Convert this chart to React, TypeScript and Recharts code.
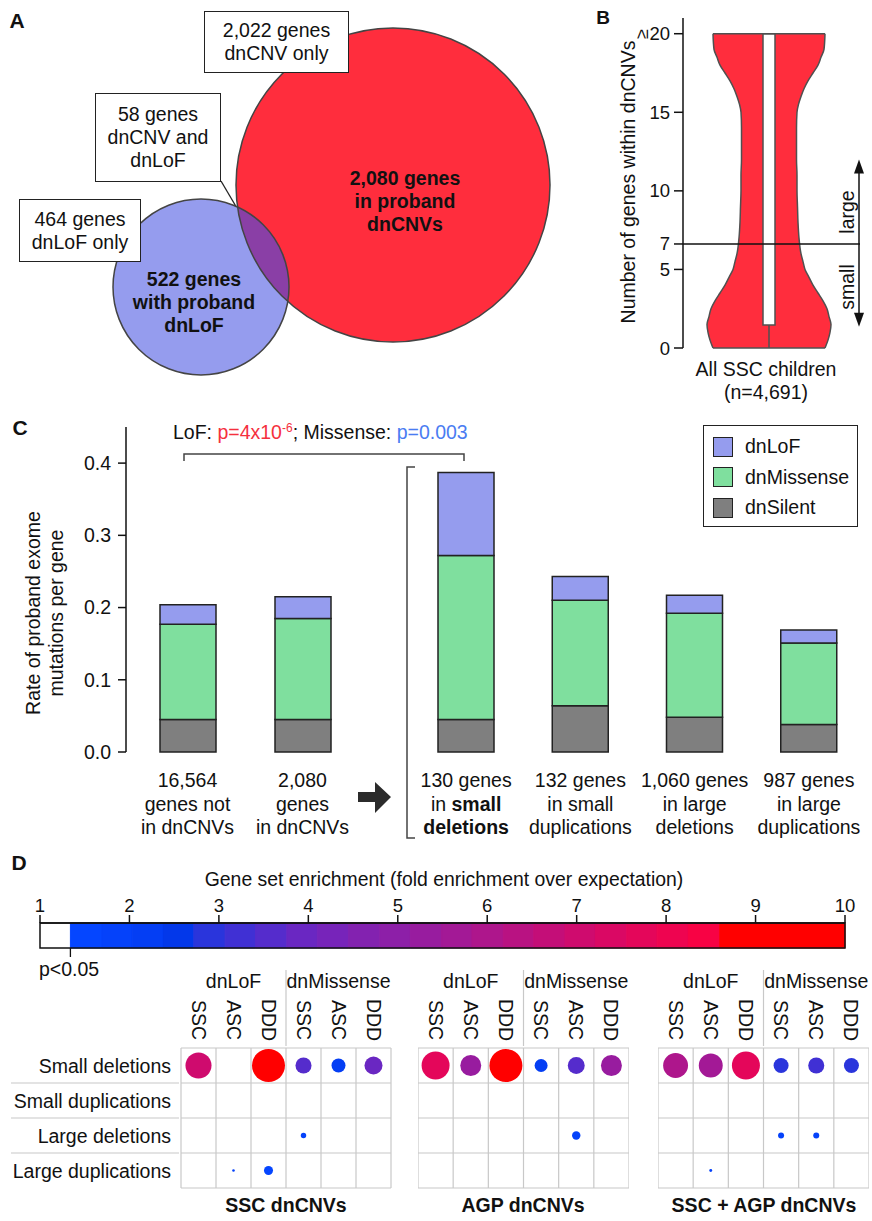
import React from "react";
import {
  ScatterChart,
  Scatter,
  ComposedChart,
  BarChart,
  Bar,
  Area,
  XAxis,
  YAxis,
  ZAxis,
  CartesianGrid,
  ReferenceLine,
  ReferenceArea,
} from "recharts";

const FONT = "'Liberation Sans', Arial, Helvetica, sans-serif";
const INK = "#111";
const FS = 19.5;

// ---------- A: overlap of gene sets (diagram units)
const vennSets = [
  { id: "cnv", genes: 2080, x: 393, y: 185, r: 157 },
  { id: "lof", genes: 522, x: 201, y: 287, r: 88 },
];
const VENN_FILL: Record<string, string> = { cnv: "#ff2d3d", lof: "#959cee" };
const VENN_OVERLAP = "#8a3fa6";

// ---------- B: genes per dnCNV, violin
const violinLevels = [0, 0.5, 1, 1.5, 2, 2.5, 3, 3.5, 4, 4.5, 5, 5.5, 6, 7, 8, 9, 10, 11, 12, 13, 14, 15, 15.5, 16, 16.5, 17, 17.5, 18, 18.5, 19, 20];
const violinHalfWidth = [56, 59, 61, 62, 60, 58, 54, 49, 44, 40, 36, 34, 32, 30, 29, 28.5, 28, 28, 27.5, 27.5, 27.5, 28, 29.5, 32, 35, 39, 44, 49, 52, 55, 56];
const boxQ1 = 1.46;
const boxQ3 = 20;
const whiskerLow = 0;
const sizeThreshold = 6.62; // drawn as "7"
const violinTicks = [0, 5, sizeThreshold, 10, 15, 20];

// ---------- C: mutation rates per gene
const rateCategories = ["notInCnv", "inCnv", "smallDel", "smallDup", "largeDel", "largeDup"];
const rateLabels = [
  ["16,564", "genes not", "in dnCNVs"],
  ["2,080", "genes", "in dnCNVs"],
  ["130 genes", "in *small*", "*deletions*"],
  ["132 genes", "in small", "duplications"],
  ["1,060 genes", "in large", "deletions"],
  ["987 genes", "in large", "duplications"],
];
const silentRate = [0.045, 0.045, 0.045, 0.064, 0.048, 0.038];
const missenseRate = [0.132, 0.14, 0.227, 0.146, 0.144, 0.113];
const lofRate = [0.027, 0.03, 0.115, 0.033, 0.025, 0.018];
const rateTicks = [0, 0.1, 0.2, 0.3, 0.4];

const LOF_COLOR = "#959cee";
const MIS_COLOR = "#7fdf9e";
const SIL_COLOR = "#7f7f7f";

const rateData = rateCategories.map((id, i) => ({
  id,
  silent: silentRate[i],
  missense: missenseRate[i],
  lof: lofRate[i],
}));

// ---------- D: enrichment colour scale and dot grids
const foldTicks = [1, 2, 3, 4, 5, 6, 7, 8, 9, 10];
const pThresholdFold = 1.34;
const colorStepStart = [1.34, 1.69, 2.03, 2.38, 2.72, 3.07, 3.41, 3.76, 4.1, 4.45, 4.8, 5.14, 5.49, 5.83, 6.18, 6.52, 6.87, 7.21, 7.56, 7.9, 8.25, 8.6];
const colorStepFill = [
  "#0546ff", "#0542fa", "#043ef4", "#0338ea", "#2a35dc", "#4030d4", "#552ccc", "#6a27c2",
  "#7724ba", "#8322b0", "#8d1fa8", "#981c9f", "#a31996", "#ae168c", "#b91282", "#c40e78",
  "#cf0b6e", "#da0864", "#e4065a", "#ee0450", "#f80244", "#ff0000",
];
const colorSteps = colorStepStart.map((from, i) => ({
  from,
  to: i < colorStepStart.length - 1 ? colorStepStart[i + 1] : 10,
}));

const gridRows = ["Small deletions", "Small duplications", "Large deletions", "Large duplications"];
const gridCols = ["SSC", "ASC", "DDD", "SSC", "ASC", "DDD"];
const gridGroups = ["dnLoF", "dnMissense"];

const sscDots = [
  { row: 0, col: 0, fold: 6.9, score: 7.1 },
  { row: 0, col: 2, fold: 9.5, score: 11.4 },
  { row: 0, col: 3, fold: 3.5, score: 2.7 },
  { row: 0, col: 4, fold: 2.3, score: 2.05 },
  { row: 0, col: 5, fold: 3.9, score: 3.4 },
  { row: 2, col: 3, fold: 1.8, score: 0.31 },
  { row: 3, col: 1, fold: 1.8, score: 0.07 },
  { row: 3, col: 2, fold: 1.6, score: 0.85 },
];
const agpDots = [
  { row: 0, col: 0, fold: 7.6, score: 8.2 },
  { row: 0, col: 1, fold: 5.3, score: 4.6 },
  { row: 0, col: 2, fold: 9.5, score: 11.4 },
  { row: 0, col: 3, fold: 2.1, score: 1.77 },
  { row: 0, col: 4, fold: 3.5, score: 3.0 },
  { row: 0, col: 5, fold: 5.2, score: 4.6 },
  { row: 2, col: 4, fold: 1.9, score: 0.74 },
];
const combinedDots = [
  { row: 0, col: 0, fold: 6.0, score: 6.5 },
  { row: 0, col: 1, fold: 5.6, score: 6.0 },
  { row: 0, col: 2, fold: 7.6, score: 8.2 },
  { row: 0, col: 3, fold: 2.9, score: 2.36 },
  { row: 0, col: 4, fold: 3.2, score: 2.7 },
  { row: 0, col: 5, fold: 2.9, score: 2.36 },
  { row: 2, col: 3, fold: 1.9, score: 0.38 },
  { row: 2, col: 4, fold: 1.9, score: 0.38 },
  { row: 3, col: 1, fold: 1.8, score: 0.09 },
];

function foldColor(f: number) {
  for (let i = colorStepStart.length - 1; i >= 0; i--) {
    if (f >= colorStepStart[i]) return colorStepFill[i];
  }
  return "#ffffff";
}

// ---------- helpers
function Txt({ x, y, children, size = FS, bold = false, rotate = 0, color = INK, lh = 23 }: any) {
  return (
    <div
      style={{
        position: "absolute",
        left: x,
        top: y,
        transform: `translate(-50%, -50%) rotate(${rotate}deg)`,
        fontSize: size,
        fontWeight: bold ? 700 : 400,
        whiteSpace: "nowrap",
        textAlign: "center",
        lineHeight: `${lh}px`,
        color,
        fontFamily: FONT,
      }}
    >
      {children}
    </div>
  );
}

function Box({ left, top, width, height, lines }: any) {
  return (
    <div
      style={{
        position: "absolute",
        left,
        top,
        width,
        height,
        boxSizing: "border-box",
        border: "1.5px solid #222",
        background: "#fff",
        display: "flex",
        flexDirection: "column",
        justifyContent: "center",
        alignItems: "center",
        fontSize: FS,
        lineHeight: "23px",
        color: INK,
        fontFamily: FONT,
      }}
    >
      {lines.map((l: string, i: number) => (
        <div key={i}>{l}</div>
      ))}
    </div>
  );
}

const vennById: Record<string, any> = Object.fromEntries(vennSets.map((s) => [s.id, s]));

function VennFill(p: any) {
  return <circle cx={p.cx} cy={p.cy} r={p.payload.r} fill={VENN_FILL[p.payload.id]} />;
}
function VennLens(p: any) {
  const a = p.payload;
  const b = vennById.cnv;
  const bx = p.cx + (b.x - a.x);
  const by = p.cy + (b.y - a.y);
  return (
    <g>
      <defs>
        <clipPath id="vennLensClip">
          <circle cx={bx} cy={by} r={b.r} />
        </clipPath>
      </defs>
      <circle cx={p.cx} cy={p.cy} r={a.r} fill={VENN_OVERLAP} clipPath="url(#vennLensClip)" />
    </g>
  );
}
function VennOutline(p: any) {
  return <circle cx={p.cx} cy={p.cy} r={p.payload.r} fill="none" stroke="#444" strokeWidth={1.5} />;
}

function DoubleArrow(p: any) {
  const { x1, y1, y2 } = p;
  const top = Math.min(y1, y2);
  const bot = Math.max(y1, y2);
  return (
    <g>
      <line x1={x1} y1={top + 8} x2={x1} y2={bot - 8} stroke={INK} strokeWidth={1.5} />
      <path d={`M${x1 - 5},${top + 14} L${x1},${top} L${x1 + 5},${top + 14} Z`} fill={INK} />
      <path d={`M${x1 - 5},${bot - 14} L${x1},${bot} L${x1 + 5},${bot - 14} Z`} fill={INK} />
    </g>
  );
}

function ViolinTick(p: any) {
  const v = p.payload.value;
  const label = v === sizeThreshold ? "7" : String(v);
  return (
    <g>
      <text x={p.x} y={p.y} textAnchor="end" dominantBaseline="central" fontSize={18.5} fill={INK} fontFamily={FONT}>
        {label}
      </text>
      {v === 20 && (
        <text
          transform={`translate(${p.x - 28},${p.y}) rotate(-90)`}
          textAnchor="middle"
          dominantBaseline="central"
          fontSize={18}
          fill={INK}
          fontFamily={FONT}
        >
          ≥
        </text>
      )}
    </g>
  );
}

function rich(line: string) {
  return line.split("*").map((seg, i) =>
    i % 2 === 1 ? (
      <tspan key={i} fontWeight={700}>
        {seg}
      </tspan>
    ) : (
      <tspan key={i}>{seg}</tspan>
    )
  );
}

function RateTick(p: any) {
  const lines = rateLabels[rateCategories.indexOf(p.payload.value)] || [];
  return (
    <text textAnchor="middle" fontSize={FS} fill={INK} fontFamily={FONT}>
      {lines.map((ln, i) => (
        <tspan key={i} x={p.x} y={p.y + 33 + i * 23.5}>
          {rich(ln)}
        </tspan>
      ))}
    </text>
  );
}

function ColTick(p: any) {
  const v = p.payload.value;
  const { x, y } = p;
  if (v === 3) {
    return <line x1={x} y1={y - 76} x2={x} y2={y} stroke="#c8c8c8" strokeWidth={1.2} />;
  }
  const col = Math.floor(v);
  return (
    <g>
      <text
        transform={`translate(${x},${y - 26}) rotate(90)`}
        textAnchor="middle"
        dominantBaseline="central"
        fontSize={FS}
        fill={INK}
        fontFamily={FONT}
      >
        {gridCols[col]}
      </text>
      {(col === 1 || col === 4) && (
        <text x={x} y={y - 58} textAnchor="middle" fontSize={FS} fill={INK} fontFamily={FONT}>
          {gridGroups[col === 1 ? 0 : 1]}
        </text>
      )}
    </g>
  );
}

function RowTick(p: any) {
  const v = p.payload.value;
  const { x, y } = p;
  if (Number.isInteger(v)) {
    return <line x1={11} y1={y} x2={x} y2={y} stroke="#c8c8c8" strokeWidth={1.2} />;
  }
  return (
    <text x={x - 8} y={y} textAnchor="end" dominantBaseline="central" fontSize={FS} fill={INK} fontFamily={FONT}>
      {gridRows[Math.floor(v)]}
    </text>
  );
}

function Dot(p: any) {
  const r = (p.width || 0) / 2;
  if (r <= 0) return null;
  return <circle cx={p.cx} cy={p.cy} r={r} fill={foldColor(p.payload.fold)} />;
}

function DotGrid({ dots, left, width, showRows }: any) {
  const data = dots.map((d: any) => ({ ...d, x: d.col + 0.5, y: d.row + 0.5 }));
  return (
    <div style={{ position: "absolute", left, top: 961 }}>
      <ScatterChart width={width} height={235} margin={{ top: 0, right: showRows ? 9 : 0, bottom: 8, left: 0 }}>
        <CartesianGrid
          verticalValues={[0, 1, 2, 3, 4, 5, 6]}
          horizontalValues={[0, 1, 2, 3, 4]}
          stroke="#c8c8c8"
          strokeWidth={1.2}
        />
        <XAxis
          type="number"
          dataKey="x"
          domain={[0, 6]}
          orientation="top"
          ticks={[0.5, 1.5, 2.5, 3, 3.5, 4.5, 5.5]}
          interval={0}
          height={87}
          axisLine={false}
          tickLine={false}
          tickSize={0}
          tick={ColTick}
        />
        <YAxis
          type="number"
          dataKey="y"
          domain={[0, 4]}
          reversed
          hide={!showRows}
          width={181}
          ticks={[0.5, 1, 1.5, 2, 2.5, 3, 3.5]}
          interval={0}
          axisLine={false}
          tickLine={false}
          tickSize={0}
          tick={RowTick}
        />
        <ZAxis type="number" dataKey="score" domain={[0, 12]} range={[0, 900]} />
        <Scatter data={data} shape={Dot} isAnimationActive={false} />
      </ScatterChart>
    </div>
  );
}

function RateChart({ data, left, width, withAxis }: any) {
  return (
    <div style={{ position: "absolute", left, top: 417 }}>
      <BarChart width={width} height={425} data={data} margin={{ top: 10, right: 0, bottom: 0, left: 0 }} barSize={56}>
        <XAxis
          dataKey="id"
          height={90}
          axisLine={false}
          tickLine={false}
          tickSize={0}
          interval={0}
          padding={withAxis ? { left: 4, right: 0 } : { left: 0, right: 0 }}
          tick={RateTick}
        />
        <YAxis
          domain={[0, 0.45]}
          ticks={rateTicks}
          hide={!withAxis}
          width={126}
          tickSize={8}
          tickMargin={7}
          tickFormatter={(v: number) => v.toFixed(1)}
          axisLine={{ stroke: INK, strokeWidth: 1.5 }}
          tickLine={{ stroke: INK, strokeWidth: 1.5 }}
          tick={{ fontSize: FS, fill: INK, fontFamily: FONT }}
        />
        <Bar dataKey="silent" stackId="r" fill={SIL_COLOR} stroke="#222" strokeWidth={1.5} isAnimationActive={false} />
        <Bar dataKey="missense" stackId="r" fill={MIS_COLOR} stroke="#222" strokeWidth={1.5} isAnimationActive={false} />
        <Bar dataKey="lof" stackId="r" fill={LOF_COLOR} stroke="#222" strokeWidth={1.5} isAnimationActive={false} />
      </BarChart>
    </div>
  );
}

const legendItems = [
  { label: "dnLoF", color: LOF_COLOR },
  { label: "dnMissense", color: MIS_COLOR },
  { label: "dnSilent", color: SIL_COLOR },
];

export default function App() {
  const violinData = violinLevels.map((v, i) => ({ v, w: violinHalfWidth[i] }));
  const wBottom = violinHalfWidth[0];
  const wTop = violinHalfWidth[violinHalfWidth.length - 1];

  return (
    <div
      style={{
        position: "absolute",
        left: 0,
        top: 0,
        width: 872,
        height: 1221,
        background: "#fff",
        fontFamily: FONT,
        color: INK,
        overflow: "hidden",
      }}
    >
      {/* A */}
      <div style={{ position: "absolute", left: 0, top: 0 }}>
        <ScatterChart width={580} height={380} margin={{ top: 0, right: 0, bottom: 0, left: 0 }}>
          <XAxis type="number" dataKey="x" domain={[0, 580]} hide />
          <YAxis type="number" dataKey="y" domain={[0, 380]} reversed hide />
          <Scatter data={vennSets} shape={VennFill} isAnimationActive={false} />
          <Scatter data={[vennById.lof]} shape={VennLens} isAnimationActive={false} />
          <Scatter data={vennSets} shape={VennOutline} isAnimationActive={false} />
          <ReferenceLine
            segment={[
              { x: 221, y: 181 },
              { x: 264, y: 254 },
            ]}
            stroke="#222"
            strokeWidth={1.3}
            ifOverflow="visible"
          />
        </ScatterChart>
      </div>
      <Txt x={17} y={20} size={21} bold>A</Txt>
      <Box left={204} top={11} width={145} height={62} lines={["2,022 genes", "dnCNV only"]} />
      <Box left={95} top={93} width={126} height={89} lines={["58 genes", "dnCNV and", "dnLoF"]} />
      <Box left={19} top={199} width={122} height={63} lines={["464 genes", "dnLoF only"]} />
      <Txt x={405} y={201} bold>
        2,080 genes<br />in proband<br />dnCNVs
      </Txt>
      <Txt x={194} y={302} bold>
        522 genes<br />with proband<br />dnLoF
      </Txt>

      {/* B */}
      <div style={{ position: "absolute", left: 590, top: 0 }}>
        <ComposedChart
          layout="vertical"
          width={282}
          height={410}
          data={violinData}
          margin={{ top: 18, right: 12, bottom: 62, left: 0 }}
        >
          <XAxis type="number" domain={[-86, 91]} hide />
          <YAxis
            type="number"
            dataKey="v"
            domain={[0, 21]}
            reversed
            ticks={violinTicks}
            interval={0}
            width={93}
            tickSize={9}
            tickMargin={4}
            axisLine={{ stroke: INK, strokeWidth: 1.5 }}
            tickLine={{ stroke: INK, strokeWidth: 1.5 }}
            tick={ViolinTick}
          />
          <Area
            type="monotone"
            dataKey="w"
            fill="#ff2d3d"
            fillOpacity={1}
            stroke="#505050"
            strokeWidth={1.5}
            isAnimationActive={false}
          />
          <Area
            type="monotone"
            dataKey={(d: any) => -d.w}
            fill="#ff2d3d"
            fillOpacity={1}
            stroke="#505050"
            strokeWidth={1.5}
            isAnimationActive={false}
          />
          <ReferenceLine
            segment={[
              { x: -wTop, y: 20 },
              { x: wTop, y: 20 },
            ]}
            stroke="#505050"
            strokeWidth={1.5}
          />
          <ReferenceLine
            segment={[
              { x: -wBottom, y: 0 },
              { x: wBottom, y: 0 },
            ]}
            stroke="#505050"
            strokeWidth={1.5}
          />
          <ReferenceLine
            segment={[
              { x: 0, y: whiskerLow },
              { x: 0, y: boxQ1 },
            ]}
            stroke="#505050"
            strokeWidth={1.5}
          />
          <ReferenceArea x1={-6} x2={6} y1={boxQ1} y2={boxQ3} fill="#fff" fillOpacity={1} stroke="#505050" strokeWidth={1.5} />
          <ReferenceLine y={sizeThreshold} stroke={INK} strokeWidth={1.5} />
          <ReferenceLine
            segment={[
              { x: 90, y: 12 },
              { x: 90, y: 1.35 },
            ]}
            ifOverflow="visible"
            shape={DoubleArrow}
          />
        </ComposedChart>
      </div>
      <Txt x={603} y={17} size={19} bold>B</Txt>
      <Txt x={628} y={182} rotate={-90}>Number of genes within dnCNVs</Txt>
      <Txt x={847} y={212} rotate={-90}>large</Txt>
      <Txt x={847} y={287} rotate={-90}>small</Txt>
      <Txt x={766} y={369}>All SSC children</Txt>
      <Txt x={766} y={392}>(n=4,691)</Txt>

      {/* C */}
      <RateChart data={rateData.slice(0, 2)} left={0} width={360} withAxis />
      <RateChart data={rateData.slice(2)} left={409} width={457} withAxis={false} />
      <Txt x={20} y={427} size={21} bold>C</Txt>
      <Txt x={33} y={613} rotate={-90}>Rate of proband exome</Txt>
      <Txt x={56} y={613} rotate={-90}>mutations per gene</Txt>
      <div style={{ position: "absolute", left: 173, top: 420, fontSize: FS, lineHeight: "24px", whiteSpace: "nowrap" }}>
        LoF: <span style={{ color: "#f5303e" }}>p=4x10<sup style={{ fontSize: 12, verticalAlign: "7px", lineHeight: 0 }}>-6</sup></span>; Missense:{" "}
        <span style={{ color: "#4a7cf2" }}>p=0.003</span>
      </div>
      <div
        style={{
          position: "absolute",
          left: 703,
          top: 425,
          width: 155,
          height: 102,
          boxSizing: "border-box",
          border: "1.5px solid #222",
          background: "#fff",
        }}
      >
        {legendItems.map((it, i) => (
          <div key={it.label} style={{ position: "absolute", left: 9, top: 9 + i * 30.5, display: "flex", alignItems: "center" }}>
            <div style={{ width: 20, height: 20, background: it.color, border: "1.5px solid #222", boxSizing: "border-box" }} />
            <div style={{ marginLeft: 12, fontSize: FS }}>{it.label}</div>
          </div>
        ))}
      </div>
      <svg style={{ position: "absolute", left: 0, top: 0 }} width={872} height={1221}>
        <path d="M184,461 V454 H464 V461" fill="none" stroke="#444" strokeWidth={1.5} />
        <path d="M415,467 H407 V838 H415" fill="none" stroke="#444" strokeWidth={1.5} />
        <polygon points="358,792 375,792 375,782 391,797 375,813 375,802 358,802" fill="#2b2b2b" />
      </svg>

      {/* D */}
      <Txt x={19} y={862} size={21} bold>D</Txt>
      <Txt x={444} y={879} size={19.4}>Gene set enrichment (fold enrichment over expectation)</Txt>
      <div style={{ position: "absolute", left: 0, top: 880 }}>
        <ComposedChart width={872} height={80} data={colorSteps} margin={{ top: 0, right: 27, bottom: 12, left: 40 }}>
          <XAxis
            type="number"
            dataKey="from"
            domain={[1, 10]}
            allowDataOverflow
            ticks={foldTicks}
            interval={0}
            orientation="top"
            height={43}
            tickSize={8}
            tickMargin={3}
            axisLine={{ stroke: INK, strokeWidth: 1.5 }}
            tickLine={{ stroke: INK, strokeWidth: 1.5 }}
            tick={{ fontSize: 18.5, fill: INK, fontFamily: FONT }}
          />
          <YAxis type="number" domain={[0, 1]} allowDataOverflow hide />
          {colorSteps.map((s, i) => (
            <ReferenceArea
              key={i}
              x1={s.from}
              x2={s.to}
              y1={0}
              y2={1}
              fill={colorStepFill[i]}
              fillOpacity={1}
              stroke={colorStepFill[i]}
              strokeWidth={1}
              ifOverflow="visible"
            />
          ))}
          <ReferenceArea x1={1} x2={10} y1={0} y2={1} fill="none" stroke={INK} strokeWidth={1.5} ifOverflow="visible" />
          <ReferenceLine
            segment={[
              { x: pThresholdFold, y: 0 },
              { x: pThresholdFold, y: -0.36 },
            ]}
            ifOverflow="visible"
            stroke={INK}
            strokeWidth={1.3}
          />
        </ComposedChart>
      </div>
      <Txt x={69} y={969}>p&lt;0.05</Txt>

      <DotGrid dots={sscDots} left={0} width={400} showRows />
      <DotGrid dots={agpDots} left={418} width={211} showRows={false} />
      <DotGrid dots={combinedDots} left={658} width={211} showRows={false} />
      <Txt x={286} y={1205} bold>SSC dnCNVs</Txt>
      <Txt x={523} y={1205} bold>AGP dnCNVs</Txt>
      <Txt x={764} y={1205} bold>SSC + AGP dnCNVs</Txt>
    </div>
  );
}
